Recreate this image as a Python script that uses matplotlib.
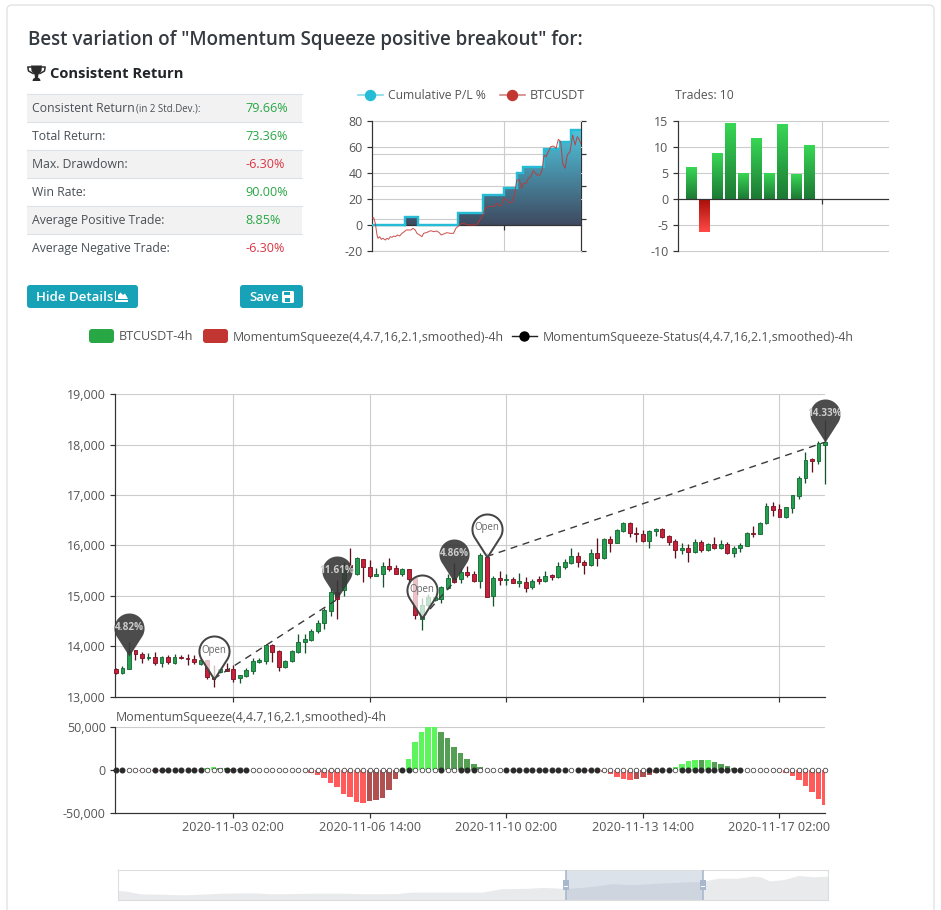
#!/usr/bin/python3

import numpy as np
import pandas as pd
import matplotlib
matplotlib.use('Agg')
import matplotlib.pyplot as plt

from matplotlib.colors import LinearSegmentedColormap
from matplotlib.patches import FancyBboxPatch, Rectangle, Polygon
from matplotlib.path import Path

WIDTH, HEIGHT = 941, 910
PX = 0.72  # one pixel in points at dpi 100

plt.rcParams['font.family'] = ['Open Sans', 'DejaVu Sans']
plt.rcParams['axes.unicode_minus'] = False

# stats table
stat_names = ['Consistent Return', 'Total Return:', 'Max. Drawdown:', 'Win Rate:',
              'Average Positive Trade:', 'Average Negative Trade:']
stat_values = ['79.66%', '73.36%', '-6.30%', '90.00%', '8.85%', '-6.30%']

# cumulative P/L steps
pl_x = [0, 98, 137, 258, 335, 397, 435, 453, 517, 565, 598, 628]
pl_values = [0, 6.4, 0, 9, 23, 28.5, 40, 45, 59, 64, 73.4, 73.4]

# BTC line of the small chart
btc_x = [0, 5, 10, 15, 18, 23, 28, 33, 40, 45, 50, 55, 60, 65, 70, 77, 83, 90, 97, 103,
         110, 117, 123, 130, 135, 143, 150, 155, 163, 170, 177, 185, 195, 202, 208, 215,
         225, 235, 245, 252, 260, 270, 280, 290, 300, 310, 317, 325, 333, 340, 350, 360,
         367, 375, 383, 390, 397, 405, 412, 420, 427, 435, 443, 450, 455, 463, 470, 477,
         485, 495, 505, 511, 517, 523, 530, 537, 545, 553, 560, 567, 573, 580, 587, 595,
         603, 610, 617, 623, 628]
btc_prices = [12519, 12570, 12133, 11234, 10977, 11105, 10900, 10977, 10848, 10977, 10900,
              11105, 11054, 11157, 11105, 11234, 11157, 11362, 11491, 11619, 11619, 11619,
              11748, 11619, 11362, 11234, 11105, 11362, 11414, 11491, 11568, 11491, 11542,
              11414, 11234, 11311, 11414, 11362, 11362, 11748, 11928, 12133, 12082, 12005,
              12005, 12005, 12082, 12442, 12776, 13290, 13418, 13470, 13418, 13675, 13470,
              13547, 14061, 13932, 13727, 13727, 14189, 15474, 15474, 14832, 15217, 15217,
              15603, 15731, 16194, 15860, 15860, 16245, 17402, 17273, 17659, 18044, 18096,
              17916, 18610, 18430, 16759, 16374, 17402, 17659, 18944, 18173, 18815, 18558,
              18250]

# trades bars
trade_returns = [6.0, -6.3, 8.7, 14.5, 4.9, 11.6, 4.9, 14.3, 4.7, 10.3]

# 4h candles
open_prices = [13555, 13475, 13555, 13935, 13845, 13760, 13780, 13675, 13780, 13675,
               13795, 13775, 13755, 13655, 13735, 13390, 13490, 13555, 13540, 13375,
               13420, 13510, 13695, 13700, 14020, 13900, 13590, 13710, 13885, 14080,
               14125, 14300, 14470, 14705, 15085, 15115, 15610, 15430, 15740, 15575,
               15400, 15435, 15595, 15550, 15435, 15530, 15360, 14550, 14815, 14920,
               14930, 15165, 15350, 15340, 15475, 15440, 15300, 15780, 14990, 15360,
               15320, 15335, 15265, 15280, 15170, 15330, 15295, 15420, 15370, 15575,
               15655, 15800, 15680, 15610, 15855, 15755, 16125, 16055, 16285, 16440,
               16255, 16220, 16095, 16280, 16320, 16195, 16095, 15920, 15945, 15875,
               16065, 15920, 16035, 15945, 16025, 15855, 15960, 16000, 16240, 16235,
               16440, 16785, 16725, 16570, 16750, 16990, 17330, 17710, 17670, 18000]
close_prices = [13475, 13570, 13905, 13840, 13765, 13780, 13675, 13780, 13680, 13795,
                13775, 13750, 13680, 13735, 13390, 13350, 13540, 13515, 13360, 13430,
                13520, 13700, 13720, 14020, 13880, 13595, 13715, 13905, 14095, 14145,
                14310, 14470, 14720, 15075, 14930, 15580, 15515, 15750, 15570, 15395,
                15435, 15595, 15540, 15440, 15530, 15330, 14620, 14815, 14985, 14985,
                15170, 15355, 15280, 15480, 15410, 15295, 15815, 14985, 15360, 15315,
                15340, 15265, 15290, 15165, 15295, 15295, 15400, 15375, 15595, 15675,
                15800, 15675, 15615, 15855, 15755, 16125, 16055, 16300, 16445, 16255,
                16225, 16085, 16280, 16325, 16175, 16065, 15920, 15955, 15875, 16065,
                15920, 16035, 15955, 16025, 15855, 15960, 16015, 16240, 16220, 16450,
                16775, 16710, 16570, 16760, 16995, 17335, 17695, 17670, 18025, 18050]
low_prices = [13460, 13450, 13555, 13720, 13670, 13735, 13630, 13595, 13650, 13650,
              13750, 13630, 13650, 13620, 13350, 13190, 13475, 13500, 13295, 13270,
              13390, 13455, 13660, 13655, 13690, 13515, 13575, 13690, 13865, 13865,
              14100, 14255, 14345, 14600, 14550, 15000, 15515, 15420, 15280, 15360,
              15395, 15170, 15500, 15430, 15400, 15250, 14550, 14330, 14785, 14900,
              14850, 15135, 15250, 15265, 15370, 15280, 15150, 14970, 14805, 15215,
              15215, 15250, 15170, 15085, 15130, 15235, 15280, 15320, 15360, 15525,
              15630, 15575, 15440, 15590, 15595, 15740, 15875, 16040, 16270, 16175,
              16075, 16065, 15960, 16185, 16155, 16005, 15755, 15840, 15675, 15855,
              15875, 15885, 15935, 15925, 15840, 15775, 15865, 15985, 16175, 16220,
              16425, 16585, 16560, 16545, 16640, 16930, 17235, 17460, 17610, 17220]
high_prices = [13570, 13600, 14085, 13935, 13880, 13865, 13885, 13800, 13820, 13840,
               13820, 13840, 13835, 13775, 13735, 13630, 13555, 13675, 13620, 13440,
               13575, 13775, 13775, 14050, 14040, 13920, 13735, 13920, 14245, 14235,
               14350, 14520, 14750, 15150, 15315, 15680, 15960, 15780, 15740, 15715,
               15555, 15680, 15750, 15615, 15560, 15540, 15360, 14950, 15030, 15000,
               15195, 15435, 15650, 15550, 15595, 15495, 15845, 15845, 15395, 15495,
               15435, 15370, 15450, 15380, 15330, 15395, 15495, 15435, 15680, 15740,
               15960, 15875, 15720, 15940, 16155, 16140, 16195, 16320, 16470, 16470,
               16360, 16305, 16300, 16350, 16340, 16205, 16120, 16040, 16020, 16135,
               16105, 16055, 16175, 16105, 16060, 15985, 16040, 16270, 16385, 16465,
               16850, 16870, 16825, 16770, 17010, 17370, 17865, 17735, 18065, 18485]

# trade markers
trade_index = [2, 15, 34, 47, 52, 57, 109]
trade_price = [13800, 13350, 14930, 14552, 15282, 15781, 18050]
trade_label = ['4.82%', 'Open', '11.61%', 'Open', '4.86%', 'Open', '14.33%']
# open -> close legs of the dashed line
leg_index = [(15, 34), (47, 52), (57, 109)]
leg_price = [(13350, 14930), (14552, 15282), (15781, 18050)]

# momentum histogram
momentum = [0, 0, -300, -400, -900, -1000, -1400, -1600, -900, -300,
            0, 0, 0, 300, 2500, 3000, 2800, 2500, 1500, 800,
            0, 0, 0, 0, 0, 0, 0, 0, 0, 0,
            -3000, -5800, -8850, -15000, -20000, -27700, -30800, -36600, -38500, -36200,
            -35000, -32700, -23100, -10400, 0, 12700, 32700, 43500, 50000, 51000,
            43500, 36600, 26200, 19250, 12300, 7300, 3000, 0, 0, 0,
            0, 0, 0, 0, 0, 0, 0, 0, 0, 0,
            0, 0, 0, -1000, -1500, -2700, -5000, -7700, -10400, -11200,
            -10000, -8100, -5800, -3500, -1000, 0, 3800, 7300, 10000, 11500,
            11200, 11500, 9200, 7300, 4600, 1900, 1000, 0, 0, 0,
            0, 0, -1000, -3900, -6900, -12000, -18500, -25000, -33900, -40400]
squeeze_on = [1, 1, 0, 0, 0, 0, 1, 1, 1, 1, 1, 1, 1, 1, 0, 0, 0, 1, 1, 1,
              1, 0, 0, 0, 0, 0, 0, 0, 0, 0, 0, 0, 0, 0, 0, 0, 0, 0, 0, 0,
              0, 0, 0, 0, 1, 1, 0, 0, 0, 0, 1, 0, 0, 1, 1, 1, 0, 0, 0, 0,
              1, 1, 1, 1, 1, 1, 1, 1, 1, 1, 0, 1, 1, 1, 1, 0, 0, 0, 0, 0,
              0, 0, 1, 1, 1, 1, 0, 1, 1, 1, 1, 1, 1, 1, 1, 1, 1, 0, 0, 0,
              0, 0, 0, 0, 0, 0, 0, 0, 0, 0]

# overview slider series
slider_x = [0, 17, 47, 92, 142, 222, 282, 332, 412, 482, 522, 592, 622, 702, 772, 812, 862,
            902, 947, 992, 1047, 1092, 1152, 1240, 1272, 1312, 1347, 1362, 1382, 1412,
            1442, 1472, 1505]
slider_prices = [13136, 12840, 11660, 11510, 11215, 11955, 12100, 11660, 11955, 11955,
                 11660, 11805, 12400, 12400, 12400, 13875, 14020, 14465, 14020, 14610,
                 16090, 15645, 16385, 17125, 18450, 18450, 19340, 19045, 17270, 17860,
                 19635, 19045, 19340]
slider_window = (950, 1240)

candle_times = pd.date_range('2020-10-31 02:00', periods=len(open_prices), freq='4h')
date_ticks = [18, 39, 60, 81, 102]

GREY = '#555555'
AXIS = '#333333'
GRID = '#cccccc'
GREEN = '#28a745'
RED = '#dc3545'
TEAL = '#17a2b8'
CYAN = '#2ec7c9'


def px_axes(fig, left, top, right, bottom):
    return fig.add_axes([left / WIDTH, 1 - bottom / HEIGHT,
                         (right - left) / WIDTH, (bottom - top) / HEIGHT])


def style_axes(ax):
    for side in ['top', 'right']:
        ax.spines[side].set_visible(False)
    for side in ['left', 'bottom']:
        ax.spines[side].set_color(AXIS)
        ax.spines[side].set_linewidth(1.2 * PX)
    ax.tick_params(labelsize=12.4 * PX, labelcolor=GREY, color=AXIS, width=1.2 * PX,
                   length=5 * PX, pad=3)
    ax.set_axisbelow(True)
    ax.grid(True, color=GRID, linewidth=1.1 * PX)


def pin_marker():
    # teardrop with its tip at the origin, so the marker sits on the price
    angles = np.radians(np.linspace(-32, 212, 60))
    circle = np.column_stack([0.35 * np.cos(angles), 0.65 + 0.35 * np.sin(angles)])
    verts = np.vstack([[[0, 0]], circle, [[0, 0]]])
    codes = [Path.MOVETO] + [Path.LINETO] * (len(verts) - 2) + [Path.CLOSEPOLY]
    return Path(verts, codes)


def draw_page(fig):
    page = fig.add_axes([0, 0, 1, 1])
    page.set_xlim(0, WIDTH)
    page.set_ylim(HEIGHT, 0)
    page.axis('off')

    page.add_patch(FancyBboxPatch((7, 5), 927, 940, boxstyle='round,pad=0,rounding_size=5',
                                  fc='white', ec='#dedede', lw=1.2 * PX))
    page.text(28, 39.5, 'Best variation of "Momentum Squeeze positive breakout" for:',
              fontsize=18.8 * PX, color='#343a40', weight=600, va='center')

    # trophy icon
    page.add_patch(Polygon([(31, 65.5), (42, 65.5), (41.5, 71), (38.5, 74.5), (38, 77.5), (40, 79),
                            (40.5, 81), (32.5, 81), (33, 79), (35, 77.5), (34.5, 74.5), (31.5, 71)],
                           fc='#2b2b2b', ec='none'))
    page.plot([31, 27.8, 28.5, 33], [67, 67, 71, 73.5], color='#2b2b2b', lw=1.5 * PX)
    page.plot([42, 45.2, 44.5, 40], [67, 67, 71, 73.5], color='#2b2b2b', lw=1.5 * PX)
    page.text(50, 73.5, 'Consistent Return', fontsize=14.8 * PX, color='#212529',
              weight='bold', va='center')

    # stats table
    row_top = 93.5
    row_h = 28
    for i, (name, value) in enumerate(zip(stat_names, stat_values)):
        if i % 2 == 0:
            page.add_patch(Rectangle((27, row_top + i * row_h), 275, row_h, fc='#f2f2f2', ec='none'))
        page.plot([27, 302], [row_top + i * row_h] * 2, color='#dee2e6', lw=1.1 * PX)
        y = row_top + (i + 0.5) * row_h + 1
        page.text(32.5, y, name, fontsize=12.2 * PX, color='#495057', va='center')
        page.text(245.5, y, value, fontsize=12.6 * PX, va='center',
                  color=RED if value.startswith('-') else GREEN)
        if i == 0:
            page.text(136, y + 0.5, '(in 2 Std.Dev.):', fontsize=9.6 * PX, color='#495057', va='center')

    # buttons
    for left, right, text in [(27, 138, 'Hide Details'), (240, 303, 'Save')]:
        page.add_patch(FancyBboxPatch((left, 285), right - left, 23,
                                      boxstyle='round,pad=0,rounding_size=3', fc=TEAL, ec='none'))
        page.text(left + 9.5, 297.5, text, fontsize=13.3 * PX, color='white', weight=600, va='center')
    page.add_patch(Polygon([(115, 291), (116.5, 291), (116.5, 300), (128.5, 300), (128.5, 302),
                            (115, 302)], fc='white', ec='none'))
    page.add_patch(Polygon([(118, 299), (118, 295), (120.5, 292.5), (123, 295), (125, 293.5), (128, 299)],
                           fc='white', ec='none'))
    page.add_patch(FancyBboxPatch((282, 291), 12, 12, boxstyle='round,pad=0,rounding_size=1.5',
                                  fc='white', ec='none'))
    page.add_patch(Rectangle((284.5, 292), 6, 3, fc=TEAL, ec='none'))
    page.add_patch(Rectangle((285.5, 297.5), 5, 4, fc=TEAL, ec='none'))

    # small charts legends
    page.plot([358, 383], [95, 95], color='#7fd6e6', lw=1.6 * PX)
    page.plot([370.5], [95], 'o', color='#26bcd6', ms=10 * PX)
    page.text(388.5, 95.5, 'Cumulative P/L %', fontsize=12.1 * PX, color=GREY, va='center')
    page.plot([500, 525], [95, 95], color='#d0807e', lw=1.6 * PX)
    page.plot([512.5], [95], 'o', color='#c23531', ms=10 * PX)
    page.text(530, 95.5, 'BTCUSDT', fontsize=12.6 * PX, color=GREY, va='center')
    page.text(675, 95.5, 'Trades: 10', fontsize=12.1 * PX, color=GREY, va='center')

    # main legend
    page.add_patch(FancyBboxPatch((89, 329), 25, 14, boxstyle='round,pad=0,rounding_size=3',
                                  fc=GREEN, ec='none'))
    page.text(119, 337, 'BTCUSDT-4h', fontsize=12.6 * PX, color=GREY, va='center')
    page.add_patch(FancyBboxPatch((203, 329), 25, 14, boxstyle='round,pad=0,rounding_size=3',
                                  fc='#c23531', ec='none'))
    page.text(233, 337, 'MomentumSqueeze(4,4.7,16,2.1,smoothed)-4h', fontsize=12.45 * PX, color=GREY, va='center')
    page.plot([512, 537], [336, 336], color='#222222', lw=1.4 * PX)
    page.plot([524.5], [336], 'o', color='black', ms=9 * PX)
    page.text(543, 337, 'MomentumSqueeze-Status(4,4.7,16,2.1,smoothed)-4h', fontsize=12.45 * PX,
              color=GREY, va='center')


def draw_pl_chart(fig):
    ax = px_axes(fig, 372, 121.3, 581, 251)
    grid_ax = ax.twinx()
    line_ax = ax.twinx()
    grid_ax.set_zorder(1)
    ax.set_zorder(2)
    line_ax.set_zorder(3)
    ax.patch.set_visible(False)
    line_ax.patch.set_visible(False)

    style_axes(ax)
    ax.set_ylim(-20, 80)
    ax.set_yticks(range(-20, 81, 20))
    ax.set_xlim(0, 628)
    ax.set_xticks([397])
    ax.set_xticklabels([''])
    ax.spines['bottom'].set_position(('data', 0))

    cmap = LinearSegmentedColormap.from_list('pl', ['#3f4a60', '#4fc4de'])
    top = max(pl_values)
    img = ax.imshow(np.linspace(0, 1, 128)[:, None], extent=[0, 628, 0, top], origin='lower',
                    aspect='auto', cmap=cmap, zorder=2)
    verts = [(0, 0)]
    for i, x in enumerate(pl_x[:-1]):
        verts += [(x, pl_values[i]), (pl_x[i + 1], pl_values[i])]
    verts.append((628, 0))
    area = Polygon(verts, transform=ax.transData, fc='none', ec='none')
    ax.add_patch(area)
    img.set_clip_path(area)
    ax.step(pl_x[1:] + [628], pl_values[:-1] + [pl_values[-1]], where='pre', color='#26bcd6',
            lw=2.4 * PX, zorder=3, solid_joinstyle='miter')
    ax.plot(pl_x[:2], pl_values[:1] * 2, color='#26bcd6', lw=2.4 * PX, zorder=3)
    ax.set_xlim(0, 628)
    ax.set_ylim(-20, 80)
    for line in ax.get_ygridlines():
        line.set_clip_on(False)

    grid_ax.set_ylim(10000, 20000)
    grid_ax.set_yticks(range(10000, 20001, 2500))
    grid_ax.set_yticklabels([])
    grid_ax.spines['top'].set_visible(False)
    grid_ax.spines['left'].set_visible(False)
    grid_ax.spines['bottom'].set_visible(False)
    grid_ax.spines['right'].set_color(AXIS)
    grid_ax.spines['right'].set_linewidth(1.2 * PX)
    grid_ax.tick_params(color=AXIS, width=1.2 * PX, length=5 * PX)
    grid_ax.grid(True, axis='y', color=GRID, linewidth=1.1 * PX)

    line_ax.set_ylim(10000, 20000)
    line_ax.axis('off')
    line_ax.plot(btc_x, btc_prices, color='#c23531', lw=1.0 * PX, alpha=0.85)


def draw_trades_chart(fig):
    ax = px_axes(fig, 677.7, 121.3, 887.7, 251)
    style_axes(ax)
    green = LinearSegmentedColormap.from_list('g', ['#1c7a34', '#38d655'])
    red = LinearSegmentedColormap.from_list('r', ['#ff4a45', '#a80f08'])
    for i, value in enumerate(trade_returns):
        bottom, top = min(0, value), max(0, value)
        ax.imshow(np.linspace(0, 1, 64)[:, None], extent=[i - 0.4, i + 0.4, bottom, top], origin='lower',
                  aspect='auto', cmap=green if value > 0 else red, zorder=3)
    ax.set_xlim(-1, 15)
    ax.set_ylim(-10, 15)
    ax.set_yticks(range(-10, 16, 5))
    ax.set_xticks([10])
    ax.set_xticklabels([''])
    ax.spines['bottom'].set_position(('data', 0))
    ax.spines['bottom'].set_zorder(4)
    for line in ax.get_ygridlines():
        line.set_clip_on(False)


def draw_candles(fig):
    ax = px_axes(fig, 115, 394.3, 825, 696.7)
    style_axes(ax)
    index = np.arange(len(open_prices))
    opens = np.array(open_prices)
    closes = np.array(close_prices)
    up = closes >= opens

    ax.vlines(index, low_prices, high_prices, colors=np.where(up, '#14532d', '#5c0f1c'),
              linewidth=1.3 * PX, zorder=2, clip_on=False)
    ax.bar(index, np.abs(closes - opens), bottom=np.minimum(opens, closes), width=0.6,
           color=np.where(up, '#269e50', '#c8203a'), edgecolor=np.where(up, '#176b37', '#7d1626'),
           linewidth=0.9 * PX, zorder=3, clip_on=False)

    for (i0, i1), (p0, p1) in zip(leg_index, leg_price):
        ax.plot([i0, i1], [p0, p1], color='#3a3a3a', lw=1.4 * PX, dashes=(5, 4), zorder=4)

    pin = pin_marker()
    for i, price, label in zip(trade_index, trade_price, trade_label):
        is_open = label == 'Open'
        ax.plot([i], [price], linestyle='none', marker=pin, markersize=86 * PX,
                markerfacecolor=(1, 1, 1, 0.72) if is_open else (0.22, 0.22, 0.22, 0.9),
                markeredgecolor='#444444' if is_open else 'none',
                markeredgewidth=2 * PX, zorder=5, clip_on=False)
        ax.annotate(label, xy=(i, price), xytext=(0, 28.6 * PX), textcoords='offset points',
                    ha='center', va='center', fontsize=10 * PX if not is_open else 9.6 * PX, zorder=6,
                    color='#666666' if is_open else '#cccccc',
                    weight='normal' if is_open else 'bold')

    ax.set_xlim(-0.15, 109)
    ax.set_ylim(13000, 19000)
    ax.set_yticks(range(13000, 19001, 1000))
    ax.set_yticklabels([f'{v:,}' for v in range(13000, 19001, 1000)])
    ax.set_xticks(date_ticks)
    ax.set_xticklabels([''] * len(date_ticks))


def draw_momentum(fig):
    ax = px_axes(fig, 115, 726.7, 825, 813.3)
    style_axes(ax)
    ax.grid(False, axis='x')
    ax.tick_params(axis='x', pad=2, labelsize=12.6 * PX)
    index = np.arange(len(momentum))
    values = np.array(momentum)
    rising = np.diff(values, prepend=values[0]) >= 0
    colors = np.where(values >= 0, np.where(rising, '#5cf55c', '#559f55'),
                      np.where(rising, '#b05050', '#ff5b5b'))
    ax.bar(index, values, width=0.85, color=colors, zorder=2)

    status = np.array(squeeze_on, dtype=bool)
    zeros = np.zeros(len(index))
    ax.plot(index[status], zeros[status], 'o', ms=4.6 * PX, color='#2b2b2b', zorder=3, clip_on=False)
    ax.plot(index[~status], zeros[~status], 'o', ms=4.6 * PX, mfc='white', mec='#444444',
            mew=0.8 * PX, zorder=3, clip_on=False)

    ax.set_xlim(-0.15, 109)
    ax.set_ylim(-50000, 50000)
    ax.set_yticks([-50000, 0, 50000])
    ax.set_yticklabels([f'{v:,}' for v in [-50000, 0, 50000]])
    ax.yaxis.get_gridlines()[1].set_visible(False)
    ax.set_xticks(date_ticks)
    ax.set_xticklabels([candle_times[i].strftime('%Y-%m-%d %H:%M') for i in date_ticks])
    ax.text(1 / 710, 1.11, 'MomentumSqueeze(4,4.7,16,2.1,smoothed)-4h', transform=ax.transAxes,
            fontsize=12.4 * PX, color=GREY, va='center')


def draw_slider(fig):
    ax = px_axes(fig, 118, 870, 828, 900)
    ax.fill_between(slider_x, 9000, slider_prices, color='#e9eaec', lw=0, zorder=1)
    ax.axvspan(slider_window[0], slider_window[1], color='#a7b7cc', alpha=0.4, lw=0, zorder=2)
    ax.set_xlim(0, 1505)
    ax.set_ylim(9000, 22000)
    ax.set_xticks([])
    ax.set_yticks([])
    for spine in ax.spines.values():
        spine.set_color('#dddddd')
        spine.set_linewidth(1.1 * PX)
    for x in slider_window:
        ax.axvline(x, color='#a7b7cc', lw=1.6 * PX, zorder=3)
        ax.plot([x, x], [13500, 17500], color='#a7b7cc', lw=6 * PX, zorder=4, solid_capstyle='butt')
        ax.plot([x, x], [16000, 16100], color='white', lw=4 * PX, zorder=5, solid_capstyle='butt')
        ax.plot([x, x], [14800, 14900], color='white', lw=4 * PX, zorder=5, solid_capstyle='butt')


def run():
    fig = plt.figure(figsize=(WIDTH / 100, HEIGHT / 100), dpi=100, facecolor='white')
    draw_page(fig)
    draw_pl_chart(fig)
    draw_trades_chart(fig)
    draw_candles(fig)
    draw_momentum(fig)
    draw_slider(fig)
    fig.savefig('out.png', dpi=100)


if __name__ == '__main__':
    run()
